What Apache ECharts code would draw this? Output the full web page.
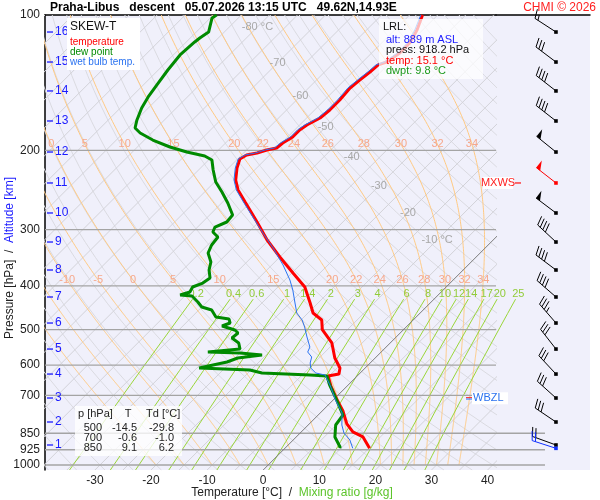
<!DOCTYPE html>
<html>
<head>
<meta charset="utf-8">
<title>SKEW-T Praha-Libus</title>
<script src="https://cdn.jsdelivr.net/npm/echarts@6/dist/echarts.min.js"></script>
<style>
html, body { margin: 0; padding: 0; background: #fff; }
#app { width: 600px; height: 500px; }
</style>
</head>
<body>
<div id="app"></div>
<script>
// ---- sounding: temperature [°C] by pressure [hPa]
const tempP = [100, 108.0, 115.4, 121.4, 127.2, 129.1, 133.9, 139.5, 145.3, 154.5, 162.6, 169.4, 175.6, 180.1, 186.7, 192.5, 197.5, 199.5, 202.6, 204.7, 208.9, 218.8, 232.6, 244.8, 260.3, 288.4, 316.2, 345.0, 374.4, 402.2, 436.5, 459.4, 476.2, 500.0, 535.6, 578.3, 608.7, 627.8, 634.2, 667.5, 717.0, 758.6, 810.5, 844.4, 866.3, 918.2];
const tempT = [-52.7, -51.0, -50.0, -50.0, -50.7, -51.7, -51.9, -52.3, -52.6, -52.3, -52.3, -52.6, -53.7, -54.1, -54.1, -54.8, -55.0, -56.4, -57.6, -59.1, -59.6, -58.5, -56.6, -54.4, -51.0, -45.3, -40.3, -35.0, -29.8, -25.2, -21.4, -19.1, -16.3, -14.5, -10.4, -7.2, -4.5, -3.6, -5.2, -2.9, 0.7, 3.7, 6.7, 9.2, 11.9, 15.1];

// dew point
const dewP = [100, 101.5, 109.1, 112.5, 114.8, 122.7, 132.5, 143.1, 152.1, 160.9, 171.1, 178.3, 182.9, 189.6, 196.5, 201.6, 205.7, 210.0, 221.0, 235.0, 247.4, 261.7, 278.3, 288.4, 295.9, 303.5, 311.4, 324.4, 338.0, 353.9, 368.7, 384.1, 394.1, 402.2, 412.6, 419.0, 421.2, 434.3, 445.6, 452.5, 469.0, 473.8, 483.6, 491.1, 501.2, 509.0, 522.2, 535.7, 552.4, 560.9, 563.8, 569.6, 578.4, 590.4, 608.8, 615.1, 624.6, 631.0, 634.2, 664.1, 709.8, 774.3, 814.9, 866.5, 912.0, 918.2];
const dewT = [-89.4, -89.7, -87.8, -88.3, -88.5, -88.8, -88.3, -87.6, -87.0, -86.2, -84.9, -83.8, -82.0, -78.5, -74.2, -70.3, -66.4, -64.4, -62.4, -59.8, -56.9, -53.9, -50.9, -50.7, -51.9, -51.4, -49.6, -49.3, -48.5, -46.4, -45.3, -43.7, -44.1, -45.2, -44.8, -46.0, -43.7, -41.6, -40.0, -37.7, -35.7, -33.0, -32.1, -33.0, -30.0, -28.9, -29.1, -27.0, -25.7, -30.9, -25.0, -20.7, -24.5, -25.7, -29.6, -20.2, -17.5, -8.6, -5.4, -3.3, 0.1, 4.4, 4.9, 6.9, 9.6, 9.8];

// wet bulb temperature
const wbP = [100, 108.0, 115.4, 121.4, 127.2, 129.1, 133.9, 139.5, 145.3, 154.5, 162.6, 169.4, 175.6, 180.1, 186.7, 192.5, 197.5, 199.5, 202.6, 204.7, 208.9, 218.8, 232.6, 244.8, 260.3, 289.9, 305.1, 329.5, 359.4, 388.1, 408.5, 436.5, 459.4, 476.2, 493.6, 519.5, 546.8, 560.9, 575.4, 593.4, 608.8, 624.6, 631.0, 667.5, 717.0, 766.4, 814.9, 849.0, 879.9, 918.2];
const wbT = [-53.0, -51.4, -50.4, -50.4, -51.1, -52.1, -52.3, -52.7, -53.0, -52.7, -52.7, -53.0, -54.1, -54.5, -54.5, -55.2, -55.4, -56.7, -57.9, -59.4, -59.9, -58.8, -56.9, -54.7, -51.3, -45.2, -42.3, -37.8, -33.0, -29.1, -26.8, -24.1, -22.0, -19.8, -18.1, -15.9, -13.6, -13.1, -11.5, -10.7, -9.7, -7.9, -5.9, -3.0, 0.4, 3.9, 6.0, 7.8, 10.1, 12.1];

// altitude levels [km] and their pressure, winds at those levels
const altKm = [1, 2, 3, 4, 5, 6, 7, 8, 9, 10, 11, 12, 13, 14, 15, 16];
const altP = [902.7, 802.5, 709.8, 627.9, 552.5, 483.6, 423.3, 368.7, 319.5, 275.4, 236.2, 201.6, 172.0, 147.5, 127.2, 109.1];
const windDir = [290, 304, 312, 317, 322, 319, 311, 307, 313, 307, 308, 309, 308, 308, 307, 303];
const windKt = [20, 30, 30, 30, 30, 35, 40, 40, 40, 50, 50, 50, 40, 40, 30, 15];
const mxwsKm = 11;

// launch level (LRL)
const lrlAlt = 889, lrlP = 918.2, lrlT = 15.1, lrlTd = 9.8;
const lrlWindDir = 288, lrlWindKt = 20;
const wbzlP = 711;

// table at standard levels
const tableP = [500, 700, 850];
const tableT = [-14.5, -0.6, 9.1];
const tableTd = [-29.8, -1.0, 6.2];

// axes, ticks and diagram lines
const xTicks = [-30, -20, -10, 0, 10, 20, 30, 40];
const pLabels = [100, 200, 300, 400, 500, 600, 700, 850, 925, 1000];
const pLines = [200, 300, 400, 500, 600, 700, 850, 925, 1000];
const pLinesLong = [850, 925, 1000];
const isoLabelT = [-80, -70, -60, -50, -40, -30, -20, -10];
const isoLabelP = [106.3, 127.8, 151.4, 177.4, 206.9, 239.9, 275.4, 316.2];
const moistW = [-20, -15, -10, -5, 0, 5, 10, 15, 20, 22, 24, 26, 28, 30, 32, 34];
const moistLabels400 = [-10, -5, 0, 5, 10, 15, 20, 22, 24, 26, 28, 30, 32, 34];
const moistLabels200 = [0, 5, 10, 15, 20, 22, 24, 26, 28, 30, 32, 34];
const mixW = [0.2, 0.4, 0.6, 1, 1.4, 2, 3, 4, 6, 8, 10, 12, 14, 17, 20, 25];

// diagram geometry
const P_TOP = 100, P_BOT = 1025.9;
const T_MIN = -38.9, T_MAX = 41.5;
const SKEW = 80.21;
const FONT = '"Liberation Sans", Arial, sans-serif';

// skewed x value of temperature t at pressure p
function skewX(t, p) {
    return t + SKEW * Math.log10(P_BOT / p);
}

// saturation mixing ratio [kg/kg]
function satMix(tc, p) {
    let es = 6.112 * Math.exp(17.67 * tc / (tc + 243.5));
    return 0.622 * es / (p - es);
}

// pseudo-adiabatic dT/dp [K/hPa]
function moistLapse(tc, p) {
    const Rd = 287.04, cp = 1005.7, L = 2.501e6, eps = 0.622;
    let T = tc + 273.15;
    let rs = satMix(tc, p);
    return (Rd * T + L * rs) / (p * (cp + L * L * rs * eps / (Rd * T * T)));
}

// integrate a pseudo-adiabat from 1000 hPa upward
function moistCurve(thw) {
    let pts = [[1000, thw]];
    let t = thw, p = 1000, dp = -2.5;
    while (p > 100.01) {
        let k1 = moistLapse(t, p);
        let k2 = moistLapse(t + 0.5 * dp * k1, p + 0.5 * dp);
        let k3 = moistLapse(t + 0.5 * dp * k2, p + 0.5 * dp);
        let k4 = moistLapse(t + dp * k3, p + dp);
        t += dp * (k1 + 2 * k2 + 2 * k3 + k4) / 6;
        p += dp;
        pts.push([p, t]);
    }
    return pts;
}

function tAt(curve, p) {
    for (let i = 1; i < curve.length; i++) {
        if (curve[i][0] <= p) {
            let a = curve[i - 1], b = curve[i];
            let f = (a[0] - p) / (a[0] - b[0]);
            return a[1] + f * (b[1] - a[1]);
        }
    }
    return curve[curve.length - 1][1];
}

// dew point [°C] for mixing ratio w [g/kg] at p
function mixT(w, p) {
    let e = w * p / (622 + w);
    let l = Math.log(e / 6.112);
    return 243.5 * l / (17.67 - l);
}

// log-spaced pressures for curved lines
function pSteps(p0, p1, n) {
    let out = [];
    for (let i = 0; i <= n; i++) {
        out.push(p0 * Math.pow(p1 / p0, i / n));
    }
    return out;
}

// ---- background lines
let isoLines = [];
for (let t = -120; t <= 40; t += 5) {
    if (t === 0) continue;
    isoLines.push({ coords: [[skewX(t, P_TOP), P_TOP], [skewX(t, P_BOT), P_BOT]] });
}
let dryLines = [];
for (let th = -40; th <= 170; th += 5) {
    let coords = pSteps(P_TOP, P_BOT, 30).map(function(p) {
        let t = (th + 273.15) * Math.pow(p / 1000, 0.2857) - 273.15;
        return [skewX(t, p), p];
    });
    dryLines.push({ coords: coords });
}
let moistCurves = {};
let moistLines = moistW.map(function(w) {
    let c = moistCurve(w);
    moistCurves[w] = c;
    return { coords: c.map(function(d) { return [skewX(d[1], d[0]), d[0]]; }) };
});
let mixLines = mixW.map(function(w) {
    return { coords: pSteps(P_BOT, 428, 12).map(function(p) { return [skewX(mixT(w, p), p), p]; }) };
});

// ---- simple text series placed through the axes
function textSeries(points, texts, color, size, align, dx, z) {
    return {
        type: 'custom',
        coordinateSystem: 'cartesian2d',
        xAxisIndex: 0,
        yAxisIndex: 0,
        silent: true,
        z: z || 4,
        data: points,
        renderItem: function(params, api) {
            let pt = api.coord([api.value(0), api.value(1)]);
            return {
                type: 'text',
                x: pt[0] + (dx || 0),
                y: pt[1],
                style: {
                    text: texts[params.dataIndex],
                    fill: color,
                    font: size + 'px ' + FONT,
                    align: align,
                    verticalAlign: 'middle'
                }
            };
        }
    };
}

function barbSeries(data) {
    return {
        type: 'custom',
        coordinateSystem: 'cartesian2d',
        xAxisIndex: 2,
        yAxisIndex: 1,
        silent: true,
        z: 6,
        data: data,
        renderItem: function(params, api) {
            let pt = api.coord([api.value(0), api.value(1)]);
            let dir = api.value(2) * Math.PI / 180;
            let kt = api.value(3);
            let color = ['#000', '#ff0000', '#1030ff'][api.value(4)];
            let ux = Math.sin(dir), uy = -Math.cos(dir);
            let vx = -uy, vy = ux;
            let L = 25;
            let ex = pt[0] + ux * L, ey = pt[1] + uy * L;
            let kids = [
                { type: 'line', shape: { x1: pt[0], y1: pt[1], x2: ex, y2: ey }, style: { stroke: color, lineWidth: 1 } },
                { type: 'rect', shape: { x: pt[0] - 1.8, y: pt[1] - 1.8, width: 3.6, height: 3.6 }, style: { fill: color } }
            ];
            let pos = 0;
            let flags = Math.floor(kt / 50);
            let rest = kt - flags * 50;
            let full = Math.floor(rest / 10);
            let half = rest - full * 10 >= 5;
            for (let i = 0; i < flags; i++) {
                let ax = ex - ux * pos, ay = ey - uy * pos;
                let bx = ex - ux * (pos + 5), by = ey - uy * (pos + 5);
                kids.push({ type: 'polygon', shape: { points: [[ax, ay], [bx, by], [ax + vx * 9, ay + vy * 9]] }, style: { fill: color } });
                pos += 6;
            }
            for (let i = 0; i < full; i++) {
                let sx = ex - ux * pos, sy = ey - uy * pos;
                kids.push({ type: 'line', shape: { x1: sx, y1: sy, x2: sx + vx * 9 + ux * 3, y2: sy + vy * 9 + uy * 3 }, style: { stroke: color, lineWidth: 1 } });
                pos += 3.5;
            }
            if (half) {
                let sx = ex - ux * pos, sy = ey - uy * pos;
                kids.push({ type: 'line', shape: { x1: sx, y1: sy, x2: sx + vx * 5 + ux * 1.7, y2: sy + vy * 5 + uy * 1.7 }, style: { stroke: color, lineWidth: 1 } });
            }
            return { type: 'group', children: kids };
        }
    };
}

function lineSeries(pArr, tArr, color, width, z) {
    return {
        type: 'line',
        xAxisIndex: 0,
        yAxisIndex: 0,
        showSymbol: false,
        symbol: 'none',
        silent: true,
        z: z,
        data: pArr.map(function(p, i) { return [skewX(tArr[i], p), p]; }),
        lineStyle: { color: color, width: width }
    };
}

function bgLines(data, color, width, z, clip, xi, yi) {
    return {
        type: 'lines',
        coordinateSystem: 'cartesian2d',
        xAxisIndex: xi || 0,
        yAxisIndex: yi || 0,
        polyline: true,
        silent: true,
        clip: clip,
        z: z,
        data: data,
        lineStyle: { color: color, width: width, opacity: 1 }
    };
}

// ---- chart
let myChart = echarts.init(document.getElementById('app'));

let series = [
    bgLines(dryLines, '#dadae0', 1, 1, true),
    bgLines(isoLines, '#d2d2d8', 1, 1, true),
    bgLines(moistLines, '#ffc982', 1, 1, true),
    bgLines(mixLines, '#9ad63a', 1, 1, false),
    bgLines(pLines.map(function(p) { return { coords: [[T_MIN, p], [T_MAX, p]] }; }), '#a4a4a4', 1.3, 2, true),
    bgLines(pLinesLong.map(function(p) { return { coords: [[0, p], [0.521, p]] }; }), '#a4a4a4', 1.3, 2, false, 2, 1),
    bgLines([{ coords: [[skewX(0, P_TOP), P_TOP], [skewX(0, P_BOT), P_BOT]] }], '#7a7a7a', 1, 2, true),
    lineSeries(tempP, tempT, '#ff0000', 3, 5),
    lineSeries(dewP, dewT, '#008a00', 3, 6),
    lineSeries(wbP, wbT, '#2a72f0', 1, 7),
    // isotherm labels
    textSeries(isoLabelT.map(function(t, i) { return [skewX(t, isoLabelP[i]), isoLabelP[i]]; }),
        isoLabelT.map(function(t, i) { return (i === 0 || i === isoLabelT.length - 1) ? t + ' °C' : String(t); }),
        '#a8a8a8', 11, 'center', 0, 3),
    // pseudo-adiabat labels
    textSeries(moistLabels400.map(function(w) { return [skewX(tAt(moistCurves[w], 388.1), 388.1), 388.1]; }),
        moistLabels400.map(String), '#f6a88c', 11, 'center', 0, 3),
    textSeries(moistLabels200.map(function(w) { return [skewX(tAt(moistCurves[w], 193.9), 193.9), 193.9]; }),
        moistLabels200.map(String), '#f6a88c', 11, 'center', 0, 3),
    // mixing ratio labels
    textSeries(mixW.map(function(w) { return [skewX(mixT(w, 417.6), 417.6), 417.6]; }),
        mixW.map(String), '#92cc3a', 11, 'center', 0, 3),
    // pressure labels
    textSeries(pLabels.map(function(p) { return [T_MIN, p]; }), pLabels.map(String), '#222', 12, 'right', -5, 4),
    // altitude labels
    textSeries(altP.map(function(p) { return [T_MIN, p]; }), altKm.map(String), '#1a1aff', 12, 'left', 10, 4),
    {
        type: 'custom',
        coordinateSystem: 'cartesian2d',
        xAxisIndex: 0,
        yAxisIndex: 0,
        silent: true,
        z: 4,
        data: altP.map(function(p) { return [T_MIN, p]; }),
        renderItem: function(params, api) {
            let pt = api.coord([api.value(0), api.value(1)]);
            return { type: 'line', shape: { x1: pt[0] + 2, y1: pt[1], x2: pt[0] + 8, y2: pt[1] }, style: { stroke: '#1a1aff', lineWidth: 1.3 } };
        }
    },
    // MXWS and WBZL markers
    {
        type: 'custom',
        coordinateSystem: 'cartesian2d',
        xAxisIndex: 0,
        yAxisIndex: 0,
        silent: true,
        z: 8,
        data: [[T_MAX, altP[mxwsKm - 1]], [T_MAX, wbzlP]],
        renderItem: function(params, api) {
            let pt = api.coord([api.value(0), api.value(1)]);
            if (params.dataIndex === 0) {
                return { type: 'group', children: [
                    { type: 'rect', shape: { x: pt[0] - 13, y: pt[1] - 6, width: 30, height: 12 }, style: { fill: '#fff' } },
                    { type: 'text', x: pt[0] + 2, y: pt[1], style: { text: 'MXWS', fill: '#ff2020', font: '11px ' + FONT, align: 'center', verticalAlign: 'middle' } },
                    { type: 'line', shape: { x1: pt[0] + 19, y1: pt[1], x2: pt[0] + 25, y2: pt[1] }, style: { stroke: '#ff2020', lineWidth: 1.3 } }
                ] };
            }
            return { type: 'group', children: [
                { type: 'rect', shape: { x: pt[0] - 24, y: pt[1] - 6, width: 36, height: 12 }, style: { fill: '#fff' } },
                { type: 'text', x: pt[0] - 23, y: pt[1], style: { text: 'WBZL', fill: '#2a72f0', font: '11px ' + FONT, align: 'left', verticalAlign: 'middle' } },
                { type: 'line', shape: { x1: pt[0] - 30, y1: pt[1] - 0.7, x2: pt[0] - 24, y2: pt[1] - 0.7 }, style: { stroke: '#ff2020', lineWidth: 1 } },
                { type: 'line', shape: { x1: pt[0] - 30, y1: pt[1] + 0.7, x2: pt[0] - 24, y2: pt[1] + 0.7 }, style: { stroke: '#2a72f0', lineWidth: 1 } }
            ] };
        }
    },
    // wind barbs
    barbSeries(altP.map(function(p, i) {
        return [0.638, p, windDir[i], windKt[i], altKm[i] === mxwsKm ? 1 : 0];
    }).concat([[0.638, lrlP, lrlWindDir, lrlWindKt, 2]]))
];

// boxes and titles
let tableTexts = [
    { type: 'text', x: 78, y: 414, style: { text: 'p [hPa]', fill: '#222', font: '11px ' + FONT, verticalAlign: 'middle' } },
    { type: 'text', x: 128, y: 414, style: { text: 'T', fill: '#222', font: '11px ' + FONT, align: 'center', verticalAlign: 'middle' } },
    { type: 'text', x: 146, y: 414, style: { text: 'Td [°C]', fill: '#222', font: '11px ' + FONT, verticalAlign: 'middle' } }
];
tableP.forEach(function(p, i) {
    let y = 428 + i * 10;
    tableTexts.push({ type: 'text', x: 102, y: y, style: { text: String(p), fill: '#222', font: '11px ' + FONT, align: 'right', verticalAlign: 'middle' } });
    tableTexts.push({ type: 'text', x: 137, y: y, style: { text: tableT[i].toFixed(1), fill: '#222', font: '11px ' + FONT, align: 'right', verticalAlign: 'middle' } });
    tableTexts.push({ type: 'text', x: 174, y: y, style: { text: tableTd[i].toFixed(1), fill: '#222', font: '11px ' + FONT, align: 'right', verticalAlign: 'middle' } });
});

let graphics = [
    { type: 'text', x: 50, y: 8, style: { text: 'Praha-Libus   descent   05.07.2026 13:15 UTC   49.62N,14.93E', fill: '#000', font: 'bold 12px ' + FONT, verticalAlign: 'middle' } },
    { type: 'text', x: 596, y: 8, style: { text: 'CHMI © 2026', fill: '#ff2020', font: '12px ' + FONT, align: 'right', verticalAlign: 'middle' } },
    // legend
    { type: 'rect', z: 50, shape: { x: 67, y: 18, width: 73, height: 52 }, style: { fill: '#fff' } },
    { type: 'text', z: 51, x: 70, y: 27, style: { text: 'SKEW-T', fill: '#111', font: '12px ' + FONT, verticalAlign: 'middle' } },
    { type: 'text', z: 51, x: 70, y: 42, style: { text: 'temperature', fill: '#ff0000', font: '10px ' + FONT, verticalAlign: 'middle' } },
    { type: 'text', z: 51, x: 70, y: 52, style: { text: 'dew point', fill: '#008a00', font: '10px ' + FONT, verticalAlign: 'middle' } },
    { type: 'text', z: 51, x: 70, y: 62, style: { text: 'wet bulb temp.', fill: '#2a72f0', font: '10px ' + FONT, verticalAlign: 'middle' } },
    // launch level box
    { type: 'rect', z: 50, shape: { x: 379, y: 19, width: 104, height: 60 }, style: { fill: 'rgba(255,255,255,0.72)' } },
    { type: 'text', z: 51, x: 383, y: 27, style: { text: 'LRL:', fill: '#111', font: '11px ' + FONT, verticalAlign: 'middle' } },
    { type: 'text', z: 51, x: 386, y: 40, style: { text: 'alt: ' + lrlAlt + ' m ASL', fill: '#1a1aff', font: '11px ' + FONT, verticalAlign: 'middle' } },
    { type: 'text', z: 51, x: 386, y: 50, style: { text: 'press: ' + lrlP.toFixed(1) + ' hPa', fill: '#111', font: '11px ' + FONT, verticalAlign: 'middle' } },
    { type: 'text', z: 51, x: 386, y: 61, style: { text: 'temp: ' + lrlT.toFixed(1) + ' °C', fill: '#ff0000', font: '11px ' + FONT, verticalAlign: 'middle' } },
    { type: 'text', z: 51, x: 386, y: 71, style: { text: 'dwpt: ' + lrlTd.toFixed(1) + ' °C', fill: '#1c9a1c', font: '11px ' + FONT, verticalAlign: 'middle' } },
    // table
    { type: 'rect', z: 50, shape: { x: 75, y: 406, width: 107, height: 50 }, style: { fill: 'rgba(255,255,255,0.78)' } },
    // axis titles
    { type: 'text', x: 292, y: 493, style: { text: '{a|Temperature [°C]}  {a|/}  {b|Mixing ratio [g/kg]}', font: '12px ' + FONT, align: 'center', verticalAlign: 'middle',
        rich: { a: { fill: '#222', font: '12px ' + FONT }, b: { fill: '#5cc42a', font: '12px ' + FONT } } } },
    { type: 'text', x: 10, y: 258, rotation: Math.PI / 2, style: { text: '{a|Pressure [hPa]}  {a|/}  {b|Altitude [km]}', font: '12px ' + FONT, align: 'center', verticalAlign: 'middle',
        rich: { a: { fill: '#222', font: '12px ' + FONT }, b: { fill: '#1a1aff', font: '12px ' + FONT } } } }
].concat(tableTexts.map(function(t) { t.z = 51; return t; }));

let option = {
    animation: false,
    textStyle: { fontFamily: FONT },
    grid: [
        { left: 45, top: 15, width: 451, height: 455, show: true, backgroundColor: '#f0f0fb', borderWidth: 0 },
        { left: 496, top: 15, width: 94, height: 455, show: true, backgroundColor: '#f0f0fb', borderWidth: 0 }
    ],
    xAxis: [
        {
            gridIndex: 0, type: 'value', min: T_MIN, max: T_MAX, position: 'bottom',
            axisLine: { show: false, onZero: false }, axisTick: { show: false }, splitLine: { show: false },
            axisLabel: { customValues: xTicks, color: '#222', fontSize: 12, margin: 5 }
        },
        {
            gridIndex: 0, type: 'value', min: T_MIN, max: T_MAX, position: 'top',
            axisLine: { show: true, onZero: false, lineStyle: { color: '#000', width: 1.5 } },
            axisTick: { show: false }, axisLabel: { show: false }, splitLine: { show: false }
        },
        {
            gridIndex: 1, type: 'value', min: 0, max: 1, position: 'top',
            axisLine: { show: true, onZero: false, lineStyle: { color: '#000', width: 1.5 } },
            axisTick: { show: false }, axisLabel: { show: false }, splitLine: { show: false }
        }
    ],
    yAxis: [
        {
            gridIndex: 0, type: 'log', logBase: 10, min: P_TOP, max: P_BOT, inverse: true, position: 'left',
            axisLine: { show: true, onZero: false, lineStyle: { color: '#000', width: 1.5 } },
            axisTick: { show: false }, axisLabel: { show: false }, splitLine: { show: false }, minorTick: { show: false }
        },
        {
            gridIndex: 1, type: 'log', logBase: 10, min: P_TOP, max: P_BOT, inverse: true,
            axisLine: { show: false, onZero: false }, axisTick: { show: false }, axisLabel: { show: false }, splitLine: { show: false }
        }
    ],
    graphic: graphics,
    series: series
};

myChart.setOption(option);
</script>
</body>
</html>
